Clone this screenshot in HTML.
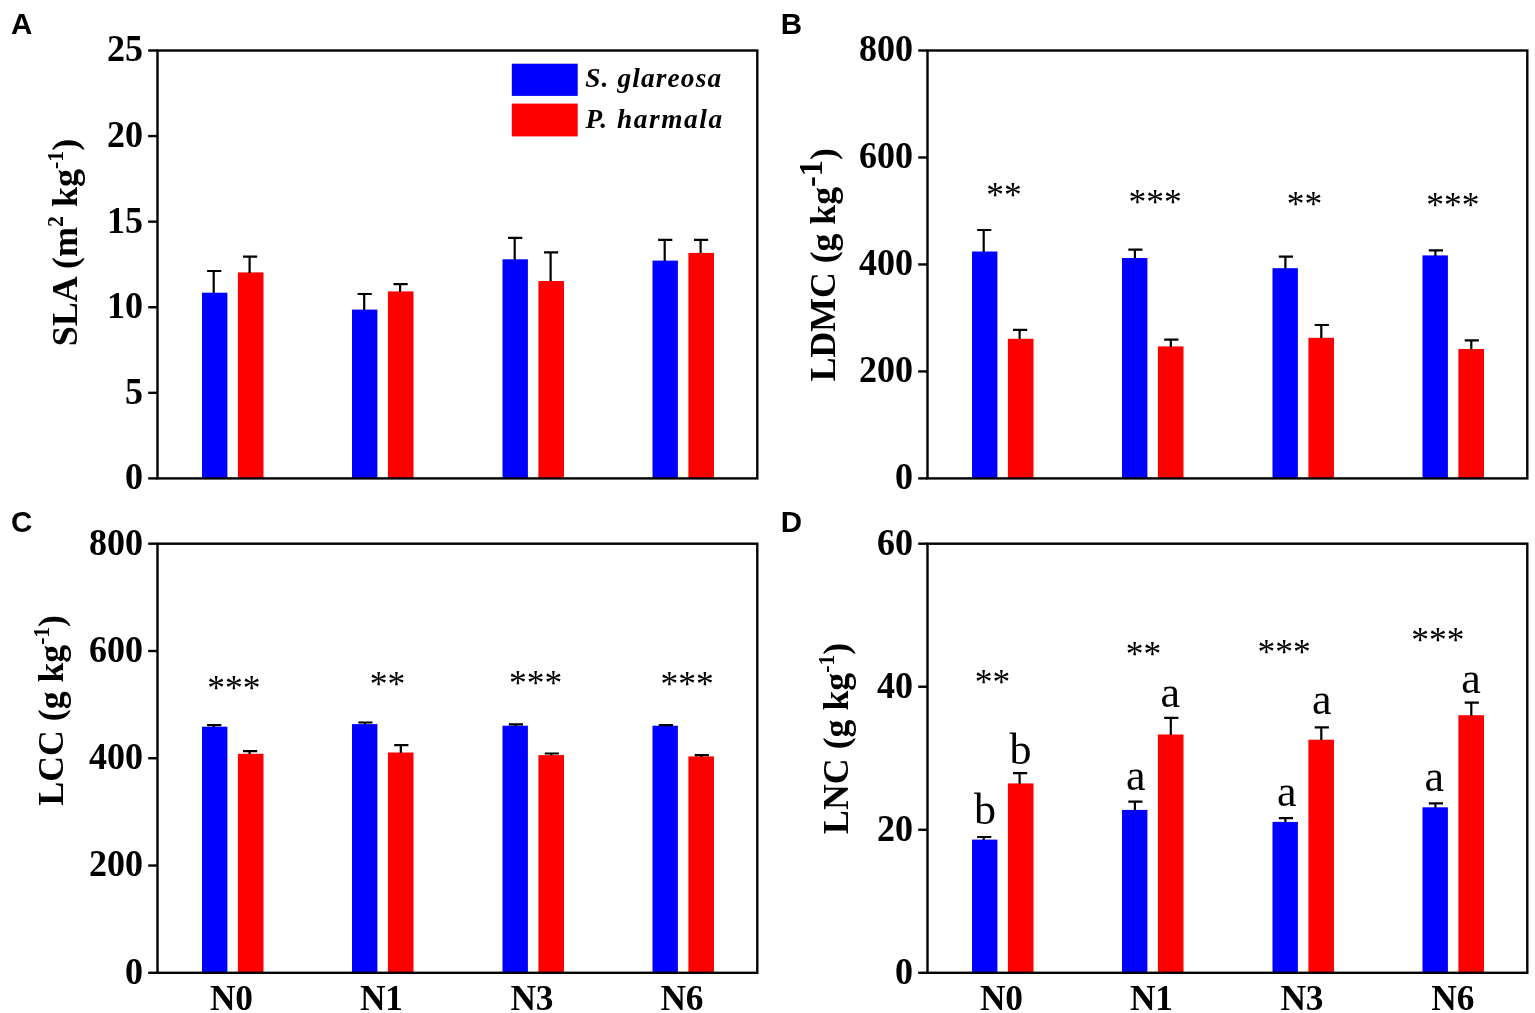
<!DOCTYPE html>
<html lang="en">
<head>
<meta charset="utf-8">
<title>Leaf traits of S. glareosa and P. harmala under nitrogen addition</title>
<style>
html,body{margin:0;padding:0;background:#fff;}
body{width:1535px;height:1013px;overflow:hidden;}
svg{display:block;}
text{fill:#000;}
.pl{font-family:"Liberation Sans",sans-serif;font-weight:bold;font-size:29.5px;}
.tk{font-family:"Liberation Serif",serif;font-weight:bold;font-size:37.5px;text-anchor:end;}
.xl{font-family:"Liberation Serif",serif;font-weight:bold;font-size:36.6px;text-anchor:middle;}
.yt{font-family:"Liberation Serif",serif;font-weight:bold;font-size:36.8px;text-anchor:start;}
.lg{font-family:"Liberation Serif",serif;font-weight:bold;font-style:italic;font-size:27.3px;letter-spacing:1.15px;}
.st{font-family:"Liberation Serif",serif;font-size:35.5px;text-anchor:middle;}
.lt{font-family:"Liberation Serif",serif;font-size:44px;text-anchor:middle;}
.fr{fill:none;stroke:#000;stroke-width:2.4;}
.ax{stroke:#000;stroke-width:2.4;fill:none;}
.eb{stroke:#000;stroke-width:2.2;fill:none;}
.b{fill:#0000ff;}
.r{fill:#ff0000;}
</style>
</head>
<body>
<svg width="1535" height="1013" viewBox="0 0 1535 1013">
<rect x="0" y="0" width="1535" height="1013" fill="#ffffff"/>
<g id="panel-A">
<text class="pl" x="11" y="33.9">A</text>
<rect class="b" x="202" y="292.7" width="25.4" height="185.7"/>
<path class="eb" d="M213.7 293.2V271M207.1 271H221.3"/>
<rect class="r" x="237.9" y="272.4" width="25.6" height="206"/>
<path class="eb" d="M249.6 272.9V256.7M243 256.7H257.2"/>
<rect class="b" x="352" y="309.6" width="25.4" height="168.8"/>
<path class="eb" d="M364.2 310.1V294M357.6 294H371.8"/>
<rect class="r" x="387.9" y="291.4" width="25.6" height="187"/>
<path class="eb" d="M400.1 291.9V284.1M393.5 284.1H407.7"/>
<rect class="b" x="502.5" y="259.3" width="25.4" height="219.1"/>
<path class="eb" d="M514.7 259.8V237.9M508.1 237.9H522.3"/>
<rect class="r" x="538.4" y="281" width="25.6" height="197.4"/>
<path class="eb" d="M550.6 281.5V252.3M544 252.3H558.2"/>
<rect class="b" x="652.5" y="260.6" width="25.4" height="217.8"/>
<path class="eb" d="M664.7 261.1V239.9M658.1 239.9H672.3"/>
<rect class="r" x="688.4" y="252.9" width="25.6" height="225.5"/>
<path class="eb" d="M700.6 253.4V239.9M694 239.9H708.2"/>
<rect class="fr" x="157.5" y="50.5" width="599.8" height="427.9"/>
<path class="ax" d="M148.2 50.5H157.5"/>
<text class="tk" transform="translate(142.9 61.4) scale(0.96 1)">25</text>
<path class="ax" d="M148.2 136.08H157.5"/>
<text class="tk" transform="translate(142.9 146.98) scale(0.96 1)">20</text>
<path class="ax" d="M148.2 221.66H157.5"/>
<text class="tk" transform="translate(142.9 232.56) scale(0.96 1)">15</text>
<path class="ax" d="M148.2 307.24H157.5"/>
<text class="tk" transform="translate(142.9 318.14) scale(0.96 1)">10</text>
<path class="ax" d="M148.2 392.82H157.5"/>
<text class="tk" transform="translate(142.9 403.72) scale(0.96 1)">5</text>
<path class="ax" d="M148.2 478.4H157.5"/>
<text class="tk" transform="translate(142.9 489.3) scale(0.96 1)">0</text>
<text class="yt" transform="translate(76.9 346.3) rotate(-90) scale(0.981 1)">SLA (m<tspan font-size="22.2" dy="-14">2</tspan><tspan dy="14"> kg</tspan><tspan font-size="22.2" dy="-14">-1</tspan><tspan dy="14">)</tspan></text>
<rect class="b" x="511.8" y="63.7" width="65.9" height="32.2"/>
<rect class="r" x="511.8" y="103.6" width="65.9" height="32.8"/>
<text class="lg" x="585.2" y="86.8">S. glareosa</text>
<text class="lg" style="letter-spacing:1.6px" x="585.4" y="127.6">P. harmala</text>
</g>
<g id="panel-B">
<text class="pl" x="780.7" y="33.9">B</text>
<rect class="b" x="972" y="251.5" width="25.4" height="226.9"/>
<path class="eb" d="M983.7 252V230M977.1 230H991.3"/>
<rect class="r" x="1007.9" y="338.8" width="25.6" height="139.6"/>
<path class="eb" d="M1019.6 339.3V329.9M1013 329.9H1027.2"/>
<rect class="b" x="1122" y="258" width="25.4" height="220.4"/>
<path class="eb" d="M1134.9 258.5V249.6M1128.3 249.6H1142.5"/>
<rect class="r" x="1157.9" y="346.4" width="25.6" height="132"/>
<path class="eb" d="M1170.8 346.9V339.6M1164.2 339.6H1178.4"/>
<rect class="b" x="1272.5" y="268.2" width="25.4" height="210.2"/>
<path class="eb" d="M1285.4 268.7V256.7M1278.8 256.7H1293"/>
<rect class="r" x="1308.4" y="337.8" width="25.6" height="140.6"/>
<path class="eb" d="M1321.3 338.3V325M1314.7 325H1328.9"/>
<rect class="b" x="1422.5" y="255.4" width="25.4" height="223"/>
<path class="eb" d="M1435.4 255.9V250.4M1428.8 250.4H1443"/>
<rect class="r" x="1458.4" y="349" width="25.6" height="129.4"/>
<path class="eb" d="M1471.3 349.5V340.4M1464.7 340.4H1478.9"/>
<rect class="fr" x="927.5" y="50.5" width="599.8" height="427.9"/>
<path class="ax" d="M918.2 50.5H927.5"/>
<text class="tk" transform="translate(912.9 61.4) scale(0.96 1)">800</text>
<path class="ax" d="M918.2 157.47H927.5"/>
<text class="tk" transform="translate(912.9 168.38) scale(0.96 1)">600</text>
<path class="ax" d="M918.2 264.45H927.5"/>
<text class="tk" transform="translate(912.9 275.35) scale(0.96 1)">400</text>
<path class="ax" d="M918.2 371.42H927.5"/>
<text class="tk" transform="translate(912.9 382.32) scale(0.96 1)">200</text>
<path class="ax" d="M918.2 478.4H927.5"/>
<text class="tk" transform="translate(912.9 489.3) scale(0.96 1)">0</text>
<text class="yt" transform="translate(835 381.3) rotate(-90) scale(0.97 1)">LDMC (g kg<tspan font-size="33.5" dy="-13">-1</tspan><tspan dy="13">)</tspan></text>
<text class="st" x="1004" y="207.32">**</text>
<text class="st" x="1155.05" y="213.92">***</text>
<text class="st" x="1304.6" y="216.02">**</text>
<text class="st" x="1452.85" y="217.32">***</text>
</g>
<g id="panel-C">
<text class="pl" x="10.9" y="532.1">C</text>
<rect class="b" x="202" y="726.7" width="25.4" height="246.1"/>
<path class="eb" d="M213.7 727.2V725.1M207.1 725.1H221.3"/>
<rect class="r" x="237.9" y="753.8" width="25.6" height="219"/>
<path class="eb" d="M249.6 754.3V751.2M243 751.2H257.2"/>
<rect class="b" x="352" y="724.1" width="25.4" height="248.7"/>
<path class="eb" d="M364.9 724.6V722.5M358.3 722.5H372.5"/>
<rect class="r" x="387.9" y="752.5" width="25.6" height="220.3"/>
<path class="eb" d="M400.8 753V745.2M394.2 745.2H408.4"/>
<rect class="b" x="502.5" y="725.7" width="25.4" height="247.1"/>
<path class="eb" d="M515.4 726.2V724.3M508.8 724.3H523"/>
<rect class="r" x="538.4" y="755.1" width="25.6" height="217.7"/>
<path class="eb" d="M551.3 755.6V753.5M544.7 753.5H558.9"/>
<rect class="b" x="652.5" y="725.7" width="25.4" height="247.1"/>
<path class="eb" d="M665.4 726.2V725.1M658.8 725.1H673"/>
<rect class="r" x="688.4" y="756.4" width="25.6" height="216.4"/>
<path class="eb" d="M701.3 756.9V755.1M694.7 755.1H708.9"/>
<rect class="fr" x="157.5" y="543.7" width="599.8" height="429.1"/>
<path class="ax" d="M148.2 543.7H157.5"/>
<text class="tk" transform="translate(142.9 554.6) scale(0.96 1)">800</text>
<path class="ax" d="M148.2 650.98H157.5"/>
<text class="tk" transform="translate(142.9 661.88) scale(0.96 1)">600</text>
<path class="ax" d="M148.2 758.25H157.5"/>
<text class="tk" transform="translate(142.9 769.15) scale(0.96 1)">400</text>
<path class="ax" d="M148.2 865.53H157.5"/>
<text class="tk" transform="translate(142.9 876.43) scale(0.96 1)">200</text>
<path class="ax" d="M148.2 972.8H157.5"/>
<text class="tk" transform="translate(142.9 983.7) scale(0.96 1)">0</text>
<text class="yt" transform="translate(62.8 805.5) rotate(-90) scale(0.97 1)">LCC (g kg<tspan font-size="22.2" dy="-14">-1</tspan><tspan dy="14">)</tspan></text>
<text class="st" x="233.9" y="700.02">***</text>
<text class="st" x="387.5" y="696.32">**</text>
<text class="st" x="535.7" y="695.32">***</text>
<text class="st" x="687.2" y="696.32">***</text>
<text class="xl" transform="translate(231.45 1009.7) scale(0.965 1)">N0</text>
<text class="xl" transform="translate(381.45 1009.7) scale(0.965 1)">N1</text>
<text class="xl" transform="translate(531.95 1009.7) scale(0.965 1)">N3</text>
<text class="xl" transform="translate(681.95 1009.7) scale(0.965 1)">N6</text>
</g>
<g id="panel-D">
<text class="pl" x="780.7" y="532">D</text>
<rect class="b" x="972" y="839.6" width="25.4" height="133.2"/>
<path class="eb" d="M983.7 840.1V837M977.1 837H991.3"/>
<rect class="r" x="1007.9" y="783.4" width="25.6" height="189.4"/>
<path class="eb" d="M1019.6 783.9V773.2M1013 773.2H1027.2"/>
<rect class="b" x="1122" y="809.9" width="25.4" height="162.9"/>
<path class="eb" d="M1134.9 810.4V801.6M1128.3 801.6H1142.5"/>
<rect class="r" x="1157.9" y="734.5" width="25.6" height="238.3"/>
<path class="eb" d="M1170.8 735V717.8M1164.2 717.8H1178.4"/>
<rect class="b" x="1272.5" y="821.9" width="25.4" height="150.9"/>
<path class="eb" d="M1285.4 822.4V818.2M1278.8 818.2H1293"/>
<rect class="r" x="1308.4" y="739.7" width="25.6" height="233.1"/>
<path class="eb" d="M1321.3 740.2V727.4M1314.7 727.4H1328.9"/>
<rect class="b" x="1422.5" y="807.3" width="25.4" height="165.5"/>
<path class="eb" d="M1435.4 807.8V803.4M1428.8 803.4H1443"/>
<rect class="r" x="1458.4" y="715.2" width="25.6" height="257.6"/>
<path class="eb" d="M1471.3 715.7V702.7M1464.7 702.7H1478.9"/>
<rect class="fr" x="927.5" y="543.7" width="599.8" height="429.1"/>
<path class="ax" d="M918.2 543.7H927.5"/>
<text class="tk" transform="translate(912.9 554.6) scale(0.96 1)">60</text>
<path class="ax" d="M918.2 686.73H927.5"/>
<text class="tk" transform="translate(912.9 697.63) scale(0.96 1)">40</text>
<path class="ax" d="M918.2 829.77H927.5"/>
<text class="tk" transform="translate(912.9 840.67) scale(0.96 1)">20</text>
<path class="ax" d="M918.2 972.8H927.5"/>
<text class="tk" transform="translate(912.9 983.7) scale(0.96 1)">0</text>
<text class="yt" transform="translate(848.2 833.9) rotate(-90) scale(0.973 1)">LNC (g kg<tspan font-size="22.2" dy="-14">-1</tspan><tspan dy="14">)</tspan></text>
<text class="st" x="992.6" y="693.52">**</text>
<text class="st" x="1143.4" y="666.02">**</text>
<text class="st" x="1284.2" y="663.62">***</text>
<text class="st" x="1437.9" y="651.82">***</text>
<text class="lt" x="985" y="823.5">b</text>
<text class="lt" x="1020.6" y="764.2">b</text>
<text class="lt" x="1135.7" y="790.3">a</text>
<text class="lt" x="1170.2" y="707.2">a</text>
<text class="lt" x="1286.8" y="806">a</text>
<text class="lt" x="1321.7" y="714.2">a</text>
<text class="lt" x="1434.2" y="791.4">a</text>
<text class="lt" x="1471" y="693">a</text>
<text class="xl" transform="translate(1001.45 1009.7) scale(0.965 1)">N0</text>
<text class="xl" transform="translate(1151.45 1009.7) scale(0.965 1)">N1</text>
<text class="xl" transform="translate(1301.95 1009.7) scale(0.965 1)">N3</text>
<text class="xl" transform="translate(1452.75 1009.7) scale(0.965 1)">N6</text>
</g>
</svg>
</body>
</html>
